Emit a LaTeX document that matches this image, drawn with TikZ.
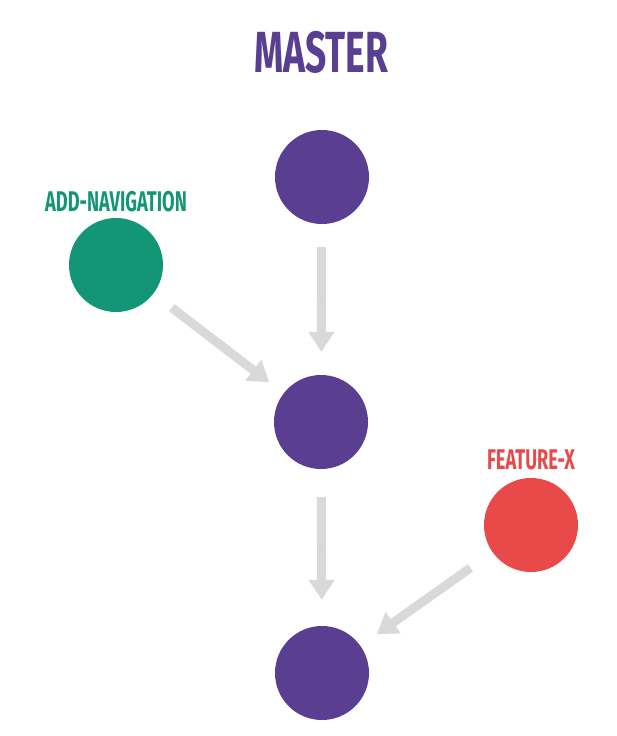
\documentclass[tikz,border=0pt]{standalone}
\usepackage{fontspec}
\usepackage{xcolor}
\usepackage{tikz}
\usetikzlibrary{arrows.meta}
\newfontfamily\tagfont[FakeStretch=0.64]{Fira Sans}
\definecolor{mastercol}{RGB}{89,62,145}
\definecolor{navcol}{RGB}{18,150,118}
\definecolor{featcol}{RGB}{232,74,74}
\definecolor{arrowcol}{RGB}{217,217,217}

\begin{document}
\begin{tikzpicture}[x=1pt, y=-1pt,
  commit/.style={circle,minimum size=94pt,inner sep=0pt,fill=#1},
  tag/.style={text=#1,font=\tagfont\bfseries\fontsize{28.5}{28.5}\selectfont,inner sep=0pt},
  flow/.style={draw=arrowcol,line width=9pt,-{Triangle[width=25pt,length=20pt]}}]
\useasboundingbox (0,0) rectangle (616,736);
\node[tag=mastercol,font=\tagfont\bfseries\fontsize{58}{58}\selectfont] (master) at (321,52) {MASTER};
\node[commit=mastercol] (m1) at (322,177) {};
\node[commit=mastercol] (m2) at (321,422) {};
\node[commit=mastercol] (m3) at (322,673) {};
\node[commit=navcol] (nav) at (116,265) {};
\node[tag=navcol] (navlabel) at (116,202) {ADD-NAVIGATION};
\node[commit=featcol] (feat) at (531,525) {};
\node[tag=featcol] (featlabel) at (531,460) {FEATURE-X};
% merges
\draw[flow,shorten <=23pt,shorten >=23pt] (m1) -- (m2);
\draw[flow,shorten <=28pt,shorten >=26pt] (m2) -- (m3);
\draw[flow,shorten <=23pt,shorten >=18pt] (nav) -- (m2);
\draw[flow,shorten <=27pt,shorten >=20pt] (feat) -- (m3);
\end{tikzpicture}
\end{document}
